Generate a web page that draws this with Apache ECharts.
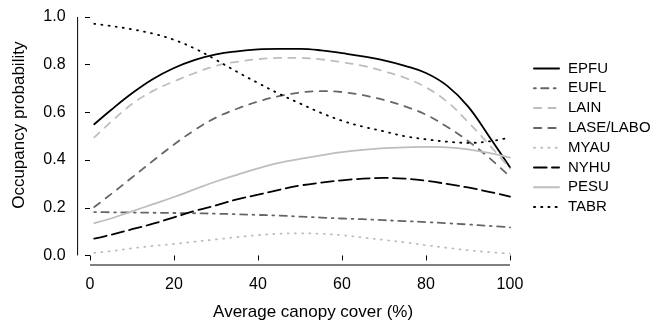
<!DOCTYPE html>
<html>
<head>
<meta charset="utf-8">
<script src="https://cdn.jsdelivr.net/npm/echarts@6/dist/echarts.min.js"></script>
<style>
  html, body { margin: 0; padding: 0; background: #fff; }
  #chart { width: 655px; height: 326px; }
</style>
</head>
<body>
<div id="chart"></div>
<script>
// canopy cover values where each curve was read
const cover = [1, 5, 10, 15, 20, 25, 30, 35, 40, 45, 50, 55, 60, 65, 70, 75, 80, 85, 90, 95, 100];

const epfu = [0.55, 0.61, 0.68, 0.74, 0.786, 0.82, 0.843, 0.856, 0.864, 0.866, 0.866, 0.86, 0.848, 0.835, 0.818, 0.795, 0.765, 0.712, 0.625, 0.5, 0.37];
const eufl = [0.182, 0.181, 0.18, 0.179, 0.178, 0.177, 0.175, 0.173, 0.17, 0.167, 0.163, 0.159, 0.155, 0.152, 0.148, 0.144, 0.14, 0.135, 0.13, 0.124, 0.118];
const lain = [0.495, 0.56, 0.635, 0.69, 0.73, 0.765, 0.795, 0.812, 0.823, 0.828, 0.828, 0.822, 0.81, 0.795, 0.772, 0.745, 0.705, 0.645, 0.56, 0.465, 0.365];
const lase = [0.203, 0.257, 0.327, 0.397, 0.465, 0.527, 0.578, 0.615, 0.645, 0.668, 0.683, 0.689, 0.685, 0.672, 0.652, 0.625, 0.59, 0.54, 0.48, 0.41, 0.33];
const myau = [0.011, 0.018, 0.03, 0.04, 0.048, 0.058, 0.067, 0.077, 0.085, 0.091, 0.093, 0.091, 0.085, 0.075, 0.065, 0.055, 0.043, 0.032, 0.022, 0.014, 0.008];
const nyhu = [0.071, 0.087, 0.11, 0.133, 0.16, 0.187, 0.21, 0.235, 0.255, 0.275, 0.293, 0.305, 0.315, 0.322, 0.325, 0.322, 0.313, 0.3, 0.285, 0.267, 0.247];
const pesu = [0.136, 0.155, 0.185, 0.215, 0.245, 0.278, 0.31, 0.338, 0.365, 0.388, 0.405, 0.42, 0.433, 0.443, 0.45, 0.453, 0.455, 0.453, 0.445, 0.43, 0.41];
const tabr = [0.971, 0.962, 0.948, 0.93, 0.904, 0.867, 0.82, 0.77, 0.723, 0.678, 0.637, 0.598, 0.565, 0.54, 0.52, 0.5, 0.487, 0.477, 0.472, 0.478, 0.495];

const xTicks = [0, 20, 40, 60, 80, 100];
const yTicks = [0, 0.2, 0.4, 0.6, 0.8, 1.0];

const FONT = '"Liberation Sans", Arial, Helvetica, sans-serif';
const LIGHT = '#bebebe';
const DARK = '#666666';
const u = 1.8; // dash unit

// r-style 4% padding around the data range
const xMin = cover[0] - 0.04 * (cover[cover.length - 1] - cover[0]);
const xMax = cover[cover.length - 1] + 0.04 * (cover[cover.length - 1] - cover[0]);
const yMin = yTicks[0] - 0.04 * (yTicks[yTicks.length - 1] - yTicks[0]);
const yMax = yTicks[yTicks.length - 1] + 0.04 * (yTicks[yTicks.length - 1] - yTicks[0]);

const curves = [
  { name: 'EPFU', values: epfu, color: '#000', type: 'solid' },
  { name: 'EUFL', values: eufl, color: DARK, type: [u, 3 * u, 4 * u, 3 * u] },
  { name: 'LAIN', values: lain, color: LIGHT, type: [4 * u, 4 * u] },
  { name: 'LASE/LABO', values: lase, color: DARK, type: [4 * u, 4 * u] },
  { name: 'MYAU', values: myau, color: LIGHT, type: [u * 0.6, 3.4 * u] },
  { name: 'NYHU', values: nyhu, color: '#000', type: [7 * u, 3 * u] },
  { name: 'PESU', values: pesu, color: LIGHT, type: 'solid' },
  { name: 'TABR', values: tabr, color: '#000', type: [u * 0.6, 3.4 * u] }
];

const series = curves.map((c) => ({
  name: c.name,
  type: 'line',
  data: cover.map((x, i) => [x, c.values[i]]),
  smooth: 0.4,
  symbol: 'none',
  showSymbol: false,
  silent: true,
  itemStyle: { color: c.color },
  lineStyle: { color: c.color, width: 1.8, type: c.type, cap: 'round' }
}));

// detached r-style axis lines, only spanning the tick range
const axisLineStyle = { color: '#000', width: 1 };
series.push({
  name: 'xaxis',
  type: 'line',
  data: [[xTicks[0], yMin], [xTicks[xTicks.length - 1], yMin]],
  symbol: 'none',
  silent: true,
  clip: false,
  lineStyle: axisLineStyle
});
series.push({
  name: 'yaxis',
  type: 'line',
  data: [[xMin, yTicks[0]], [xMin, yTicks[yTicks.length - 1]]],
  symbol: 'none',
  silent: true,
  clip: false,
  lineStyle: axisLineStyle
});

const chart = echarts.init(document.getElementById('chart'), null, { renderer: 'canvas' });

chart.setOption({
  animation: false,
  backgroundColor: '#fff',
  textStyle: { fontFamily: FONT },
  grid: { left: 77.6, right: 128.4, top: 7.4, bottom: 59.4 },
  legend: {
    data: curves.map((c) => c.name),
    orient: 'vertical',
    left: 533,
    top: 61,
    padding: 0,
    itemWidth: 25,
    itemHeight: 14,
    itemGap: 4.8,
    itemStyle: { opacity: 0 },
    selectedMode: false,
    textStyle: { fontFamily: FONT, fontSize: 15, color: '#000', padding: [0, 0, 0, 4] }
  },
  xAxis: {
    type: 'value',
    min: xMin,
    max: xMax,
    axisLine: { show: false },
    splitLine: { show: false },
    axisTick: { show: true, length: 5, customValues: xTicks, lineStyle: { color: '#000' } },
    axisLabel: { customValues: xTicks, fontSize: 16, color: '#000', margin: 12, fontFamily: FONT },
    name: 'Average canopy cover (%)',
    nameLocation: 'middle',
    nameGap: 39,
    nameTextStyle: { fontSize: 17, color: '#000', fontFamily: FONT, padding: [0, 0, 0, 22] }
  },
  yAxis: {
    type: 'value',
    min: yMin,
    max: yMax,
    axisLine: { show: false },
    splitLine: { show: false },
    axisTick: { show: true, length: 5, customValues: yTicks, lineStyle: { color: '#000' } },
    axisLabel: {
      customValues: yTicks,
      fontSize: 16,
      color: '#000',
      margin: 12,
      fontFamily: FONT,
      formatter: (v) => v.toFixed(1)
    },
    name: 'Occupancy probability',
    nameLocation: 'middle',
    nameGap: 50,
    nameTextStyle: { fontSize: 17, color: '#000', fontFamily: FONT, padding: [0, 0, 0, 22] }
  },
  series
});
</script>
</body>
</html>
